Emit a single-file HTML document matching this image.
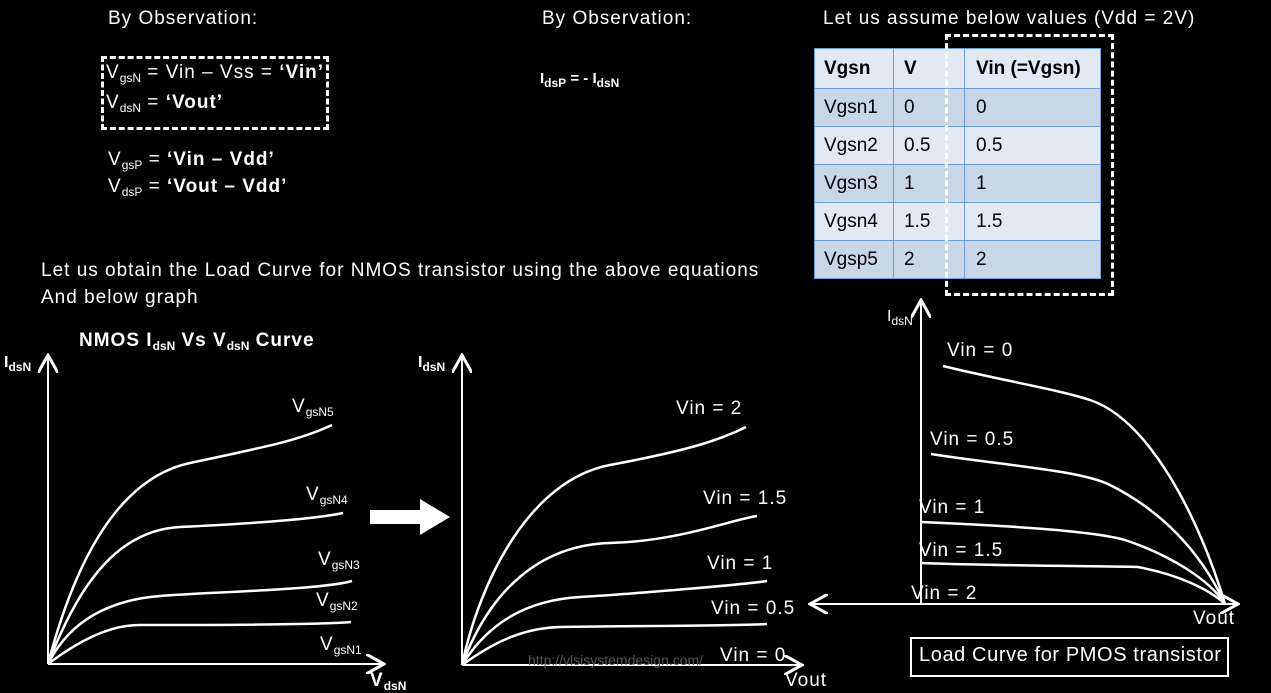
<!DOCTYPE html>
<html><head><style>
body{margin:0;width:1271px;height:692px;background:#000;overflow:hidden;position:relative;font-family:"Liberation Sans",sans-serif;color:#fff}
.t{position:absolute;white-space:nowrap;font-size:19px;letter-spacing:1px}
sub{font-size:12px;vertical-align:-4px;letter-spacing:0}
table{position:absolute;left:814px;top:48px;border-collapse:collapse;font-size:19px;color:#000;table-layout:fixed}
td{border:1.5px solid #6f9fd8;height:35px;padding:0 0 0 9px;box-sizing:border-box}
tr.a td{background:#c9d6e8}tr.b td{background:#e3e9f3}
</style></head><body>
<div class="t" style="left:108px;top:8px">By Observation:</div>
<div class="t" style="left:542px;top:8px">By Observation:</div>
<div class="t" style="left:823px;top:8px">Let us assume below values (Vdd = 2V)</div>
<div style="position:absolute;left:101px;top:56px;width:222px;height:68px;border:3px dashed #fff"></div>
<div class="t" style="left:106px;top:62px">V<sub>gsN</sub> = Vin – Vss = <b>‘Vin’</b></div>
<div class="t" style="left:106px;top:92px">V<sub>dsN</sub> = <b>‘Vout’</b></div>
<div class="t" style="left:108px;top:149px">V<sub>gsP</sub> = <b>‘Vin – Vdd’</b></div>
<div class="t" style="left:108px;top:176px">V<sub>dsP</sub> = <b>‘Vout – Vdd’</b></div>
<div class="t" style="left:540px;top:70px;font-size:15px;letter-spacing:0"><b>I<sub>dsP</sub> = - I<sub>dsN</sub></b></div>
<div class="t" style="left:41px;top:260px">Let us obtain the Load Curve for NMOS transistor using the above equations</div>
<div class="t" style="left:41px;top:287px">And below graph</div>
<table style="width:286px">
<col style="width:79px"><col style="width:71px"><col style="width:136px">
<tr class="b"><td style="height:40px"><b>Vgsn</b></td><td style="padding-left:10px"><b>V</b></td><td style="padding-left:11px"><b>Vin (=Vgsn)</b></td></tr>
<tr class="a"><td style="height:38px">Vgsn1</td><td style="padding-left:10px">0</td><td style="padding-left:11px">0</td></tr>
<tr class="b"><td style="height:38px">Vgsn2</td><td style="padding-left:10px">0.5</td><td style="padding-left:11px">0.5</td></tr>
<tr class="a"><td style="height:38px">Vgsn3</td><td style="padding-left:10px">1</td><td style="padding-left:11px">1</td></tr>
<tr class="b"><td style="height:38px">Vgsn4</td><td style="padding-left:10px">1.5</td><td style="padding-left:11px">1.5</td></tr>
<tr class="a"><td style="height:38px">Vgsp5</td><td style="padding-left:10px">2</td><td style="padding-left:11px">2</td></tr>
</table>
<div style="position:absolute;left:945px;top:34px;width:163px;height:256px;border:3px dashed #fff"></div>
<svg width="1271" height="692" style="position:absolute;left:0;top:0" fill="none" stroke="#fff" stroke-width="2.5">
<defs><marker id="m" markerWidth="10" markerHeight="10" refX="8" refY="5" orient="auto"><path d="M0,0L9,5L0,10" stroke="#fff" stroke-width="1.5" fill="none"/></marker></defs>
<path d="M48,664V357" marker-end="url(#m)" stroke-width="2"/><path d="M48,664H382" marker-end="url(#m)" stroke-width="2"/>
<path d="M48,664C70,580 110,480 190,463 S300,440 332,425"/>
<path d="M48,664C80,580 120,530 180,527 S310,520 343,513"/>
<path d="M48,664C70,620 110,600 160,596 S320,590 352,581"/>
<path d="M48,664C80,640 110,625 140,625 S320,625 351,622"/>
<path d="M370,510H420V499L450,517L420,535V524H370Z" fill="#fff" stroke="none"/>
<path d="M462,665V357" marker-end="url(#m)" stroke-width="2"/><path d="M462,665H800" marker-end="url(#m)" stroke-width="2"/>
<path d="M462,665C480,580 530,480 610,465 S720,440 746,427"/>
<path d="M462,665C490,590 540,545 610,543 S730,520 757,516"/>
<path d="M462,665C490,620 530,600 580,597 S740,585 767,581"/>
<path d="M462,665C490,645 520,628 560,627 S740,626 767,624"/>
<path d="M921,604V302" marker-end="url(#m)" stroke-width="2"/>
<path d="M921,604H1236" marker-end="url(#m)" stroke-width="2"/><path d="M921,604H812" marker-end="url(#m)" stroke-width="2"/>
<path d="M943,366C1000,380 1060,390 1090,400 C1150,420 1200,520 1225,604"/>
<path d="M931,454C1000,465 1080,470 1110,485 C1160,510 1200,550 1225,604"/>
<path d="M921,522C990,525 1090,530 1125,540 C1170,555 1210,580 1225,604"/>
<path d="M922,563C1000,566 1100,566 1138,567 C1180,575 1210,590 1225,604"/>
<rect x="911" y="638" width="317" height="38" stroke-width="2"/>
</svg>
<div class="t" style="left:79px;top:330px"><b>NMOS I<sub>dsN</sub> Vs V<sub>dsN</sub> Curve</b></div>
<div class="t" style="left:4px;top:354px;font-size:16px;letter-spacing:0"><b>I<sub>dsN</sub></b></div>
<div class="t" style="left:292px;top:396px">V<sub>gsN5</sub></div>
<div class="t" style="left:306px;top:484px">V<sub>gsN4</sub></div>
<div class="t" style="left:318px;top:549px">V<sub>gsN3</sub></div>
<div class="t" style="left:316px;top:590px">V<sub>gsN2</sub></div>
<div class="t" style="left:320px;top:634px">V<sub>gsN1</sub></div>
<div class="t" style="left:370px;top:670px"><b>V<sub>dsN</sub></b></div>
<div class="t" style="left:418px;top:354px;font-size:16px;letter-spacing:0"><b>I<sub>dsN</sub></b></div>
<div class="t" style="left:676px;top:398px">Vin = 2</div>
<div class="t" style="left:703px;top:488px">Vin = 1.5</div>
<div class="t" style="left:707px;top:553px">Vin = 1</div>
<div class="t" style="left:711px;top:598px">Vin = 0.5</div>
<div class="t" style="left:720px;top:645px">Vin = 0</div>
<div class="t" style="left:528px;top:652px;font-size:14px;letter-spacing:0;color:#555">http://vlsisystemdesign.com/</div>
<div class="t" style="left:785px;top:670px">Vout</div>
<div class="t" style="left:887px;top:308px;font-size:16px;letter-spacing:0">I<sub>dsN</sub></div>
<div class="t" style="left:947px;top:340px">Vin = 0</div>
<div class="t" style="left:930px;top:429px">Vin = 0.5</div>
<div class="t" style="left:919px;top:497px">Vin = 1</div>
<div class="t" style="left:919px;top:540px">Vin = 1.5</div>
<div class="t" style="left:911px;top:583px">Vin = 2</div>
<div class="t" style="left:1193px;top:608px">Vout</div>
<div class="t" style="left:919px;top:644px;font-size:20px;letter-spacing:.6px">Load Curve for PMOS transistor</div>
</body></html>
